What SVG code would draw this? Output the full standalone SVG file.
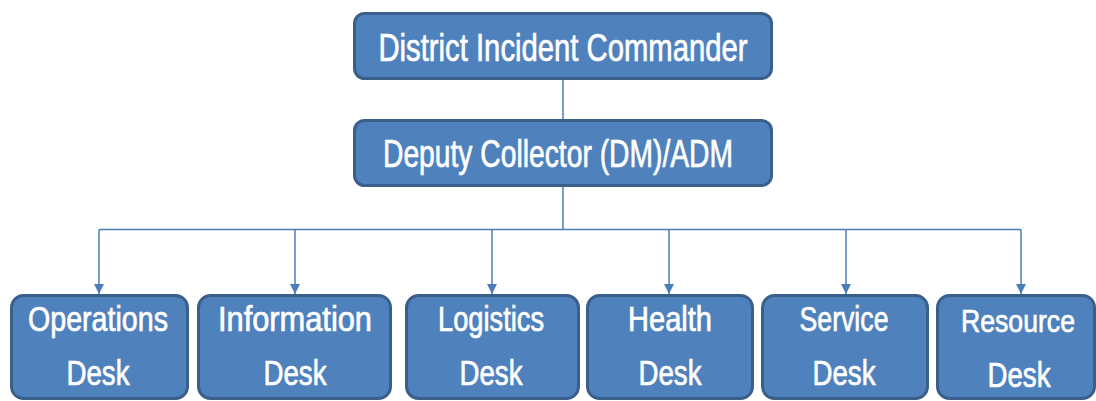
<svg xmlns="http://www.w3.org/2000/svg" width="1096" height="401" viewBox="0 0 1096 401">
<style>
.box{fill:#4F81BD;stroke:#3A5F8B;stroke-width:3}
.t{font-family:"Liberation Sans",Arial,sans-serif;fill:#FFFFFF;stroke:#FFFFFF;stroke-width:0.7;text-anchor:middle}
.big{font-size:38px}
.sm{font-size:35px}
.ln{fill:none;stroke:#4A7EBB;stroke-width:1.5}
</style>
<defs>
<marker id="ah" markerWidth="10" markerHeight="12" refX="10" refY="5" orient="auto" markerUnits="userSpaceOnUse" viewBox="0 0 10 10">
<path d="M0,0 L10,5 L0,10 Z" fill="#4A7EBB"/>
</marker>
</defs>
<rect width="1096" height="401" fill="#FFFFFF"/>
<g id="connectors">
<line class="ln" x1="563" y1="79" x2="563" y2="120"/>
<line class="ln" x1="563" y1="186" x2="563" y2="229.5"/>
<line class="ln" x1="99" y1="229.5" x2="1021" y2="229.5"/>
<line class="ln" x1="99" y1="229.5" x2="99" y2="294" marker-end="url(#ah)"/>
<line class="ln" x1="295" y1="229.5" x2="295" y2="294" marker-end="url(#ah)"/>
<line class="ln" x1="492" y1="229.5" x2="492" y2="294" marker-end="url(#ah)"/>
<line class="ln" x1="669" y1="229.5" x2="669" y2="294" marker-end="url(#ah)"/>
<line class="ln" x1="846" y1="229.5" x2="846" y2="294" marker-end="url(#ah)"/>
<line class="ln" x1="1021" y1="229.5" x2="1021" y2="294" marker-end="url(#ah)"/>
</g>
<g id="n-dic">
<rect class="box" x="354.5" y="13.5" width="417" height="65" rx="10"/>
<text class="t big" x="563" y="61" textLength="369" lengthAdjust="spacingAndGlyphs">District Incident Commander</text>
</g>
<g id="n-dc">
<rect class="box" x="354.5" y="120.5" width="417" height="65" rx="10"/>
<text class="t big" x="558" y="167" textLength="350" lengthAdjust="spacingAndGlyphs">Deputy Collector (DM)/ADM</text>
</g>
<g id="n-ops">
<rect class="box" x="11.5" y="295.5" width="176" height="103" rx="12"/>
<text class="t sm" x="98" y="331" textLength="140" lengthAdjust="spacingAndGlyphs">Operations</text>
<text class="t sm" x="98" y="385" textLength="63" lengthAdjust="spacingAndGlyphs">Desk</text>
</g>
<g id="n-info">
<rect class="box" x="198.5" y="295.5" width="192" height="103" rx="12"/>
<text class="t sm" x="295" y="331" textLength="154" lengthAdjust="spacingAndGlyphs">Information</text>
<text class="t sm" x="295" y="385" textLength="63" lengthAdjust="spacingAndGlyphs">Desk</text>
</g>
<g id="n-log">
<rect class="box" x="406.5" y="295.5" width="172" height="103" rx="12"/>
<text class="t sm" x="491" y="331" textLength="106" lengthAdjust="spacingAndGlyphs">Logistics</text>
<text class="t sm" x="491" y="385" textLength="63" lengthAdjust="spacingAndGlyphs">Desk</text>
</g>
<g id="n-health">
<rect class="box" x="587.5" y="295.5" width="165" height="103" rx="12"/>
<text class="t sm" x="670" y="331" textLength="84" lengthAdjust="spacingAndGlyphs">Health</text>
<text class="t sm" x="670" y="385" textLength="63" lengthAdjust="spacingAndGlyphs">Desk</text>
</g>
<g id="n-service">
<rect class="box" x="762.5" y="295.5" width="165" height="103" rx="12"/>
<text class="t sm" x="844" y="331" textLength="89" lengthAdjust="spacingAndGlyphs">Service</text>
<text class="t sm" x="844" y="385" textLength="63" lengthAdjust="spacingAndGlyphs">Desk</text>
</g>
<g id="n-resource">
<rect class="box" x="937.5" y="295.5" width="157" height="103" rx="12"/>
<text class="t" style="font-size:32px" x="1018" y="332" textLength="114" lengthAdjust="spacingAndGlyphs">Resource</text>
<text class="t sm" x="1019" y="387" textLength="63" lengthAdjust="spacingAndGlyphs">Desk</text>
</g>
</svg>
